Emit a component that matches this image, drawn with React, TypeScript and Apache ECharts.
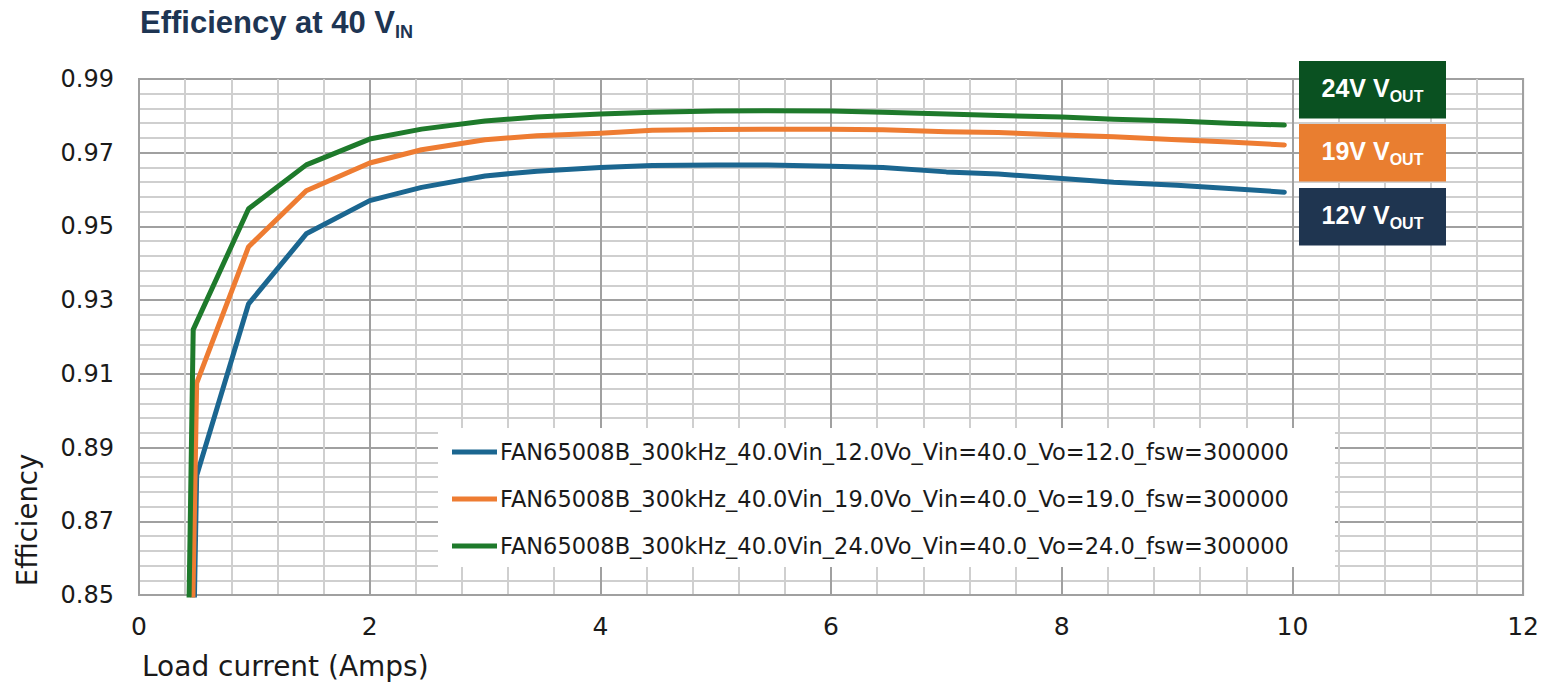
import React, { useEffect, useRef } from "react";
import * as echarts from "echarts";

// ---- Data ----
const titleMain = "Efficiency at 40 V";
const titleSub = "IN";
const xAxisTitle = "Load current (Amps)";
const yAxisTitle = "Efficiency";

const seriesNames = [
  "FAN65008B_300kHz_40.0Vin_12.0Vo_Vin=40.0_Vo=12.0_fsw=300000",
  "FAN65008B_300kHz_40.0Vin_19.0Vo_Vin=40.0_Vo=19.0_fsw=300000",
  "FAN65008B_300kHz_40.0Vin_24.0Vo_Vin=40.0_Vo=24.0_fsw=300000",
];
const seriesColors = ["#1b6690", "#ee7c32", "#1e7a2b"];

const current12 = [0.44, 0.5, 0.95, 1.45, 2.0, 2.45, 3.0, 3.45, 4.0, 4.45, 5.0, 5.45, 6.0, 6.45, 7.0, 7.45, 8.0, 8.45, 9.0, 9.45, 9.93];
const eff12 = [0.78, 0.8824, 0.929, 0.948, 0.957, 0.9606, 0.9637, 0.965, 0.966, 0.9665, 0.9667, 0.9667, 0.9663, 0.966, 0.9648, 0.9642, 0.963, 0.962, 0.9612, 0.9603, 0.9593];

const current19 = [0.44, 0.5, 0.95, 1.45, 2.0, 2.45, 3.0, 3.45, 4.0, 4.45, 5.0, 5.45, 6.0, 6.45, 7.0, 7.45, 8.0, 8.45, 9.0, 9.45, 9.93];
const eff19 = [0.8, 0.9075, 0.9445, 0.9597, 0.9672, 0.9708, 0.9735, 0.9746, 0.9753, 0.9761, 0.9763, 0.9764, 0.9764, 0.9762, 0.9757, 0.9755, 0.9748, 0.9743, 0.9735, 0.9729, 0.9721];

const current24 = [0.41, 0.47, 0.95, 1.45, 2.0, 2.45, 3.0, 3.45, 4.0, 4.45, 5.0, 5.45, 6.0, 6.45, 7.0, 7.45, 8.0, 8.45, 9.0, 9.45, 9.93];
const eff24 = [0.8, 0.922, 0.9548, 0.9667, 0.9737, 0.9764, 0.9786, 0.9797, 0.9805, 0.981, 0.9813, 0.9814, 0.9813, 0.981, 0.9805, 0.9801, 0.9797, 0.9791, 0.9786, 0.978, 0.9775];

const xMin = 0;
const xMax = 12;
const xInterval = 2;
const yMin = 0.85;
const yMax = 0.99;
const yInterval = 0.02;

const voutLabels = ["24V V", "19V V", "12V V"];
const voutSub = "OUT";
const voutBoxColors = ["#0a5121", "#e97e30", "#1f3550"];

const AXIS_FONT = "'DejaVu Sans', Inter, sans-serif";
const BOLD_FONT = "'Liberation Sans', Arial, sans-serif";

export default function App() {
  const ref = useRef<HTMLDivElement>(null);

  useEffect(() => {
    if (!ref.current) return;
    const chart = echarts.init(ref.current, undefined, { renderer: "svg" });

    const currents = [current12, current19, current24];
    const effs = [eff12, eff19, eff24];

    const series = seriesNames.map((name, i) => ({
      name,
      type: "line",
      data: currents[i].map((x, k) => [x, effs[i][k]]),
      showSymbol: false,
      symbol: "none",
      clip: true,
      color: seriesColors[i],
      lineStyle: { width: 5, color: seriesColors[i], cap: "round", join: "round" },
      z: 3,
    }));

    const boxTops = [61, 124, 188];
    const boxGraphics = voutLabels.map((lab, i) => ({
      type: "group",
      children: [
        {
          type: "rect",
          shape: { x: 1299, y: boxTops[i], width: 147, height: 57.5 },
          style: { fill: voutBoxColors[i] },
          z: 10,
        },
        {
          type: "text",
          x: 1372.5,
          y: boxTops[i] + 28.5 - 2,
          z: 11,
          style: {
            text: `{a|${lab}}{b|${voutSub}}`,
            align: "center",
            verticalAlign: "middle",
            fill: "#ffffff",
            rich: {
              a: { fontSize: 25, fontWeight: "bold", fontFamily: BOLD_FONT, fill: "#ffffff", lineHeight: 30, verticalAlign: "middle" },
              b: { fontSize: 16, fontWeight: "bold", fontFamily: BOLD_FONT, fill: "#ffffff", lineHeight: 30, verticalAlign: "middle", padding: [17, 0, 0, 0] },
            },
          },
        },
      ],
    }));

    const option: any = {
      animation: false,
      backgroundColor: "#ffffff",
      title: {
        text: `{a|${titleMain}}{b|${titleSub}}`,
        left: 140,
        top: 5,
        padding: 0,
        textStyle: {
          rich: {
            a: { fontSize: 31, fontWeight: "bold", fontFamily: BOLD_FONT, color: "#1e3553", lineHeight: 34, verticalAlign: "middle" },
            b: { fontSize: 18, fontWeight: "bold", fontFamily: BOLD_FONT, color: "#1e3553", lineHeight: 34, verticalAlign: "middle", padding: [19, 0, 0, 0] },
          },
        },
      },
      grid: {
        left: 139,
        right: 17,
        top: 79,
        bottom: 92,
        show: true,
        borderColor: "#a0a0a0",
        borderWidth: 2,
        backgroundColor: "transparent",
      },
      legend: {
        orient: "vertical",
        left: 438,
        top: 428,
        padding: [12, 0, 9, 14],
        backgroundColor: "#ffffff",
        icon: "rect",
        itemWidth: 45,
        itemHeight: 5,
        itemGap: 23,
        z: 5,
        textStyle: {
          fontFamily: AXIS_FONT,
          fontSize: 22.5,
          color: "#1a1a1a",
          lineHeight: 24,
          width: 835,
          padding: [0, 0, 0, -2],
        },
        data: seriesNames,
      },
      xAxis: {
        type: "value",
        min: xMin,
        max: xMax,
        interval: xInterval,
        axisLine: { show: true, lineStyle: { color: "#a0a0a0", width: 2 } },
        axisTick: { show: false },
        axisLabel: {
          fontFamily: AXIS_FONT,
          fontSize: 25,
          color: "#1a1a1a",
          margin: 19,
        },
        splitLine: { show: true, lineStyle: { color: "#a0a0a0", width: 2 } },
        minorTick: { show: false, splitNumber: 5 },
        minorSplitLine: { show: true, lineStyle: { color: "#cfcfcf", width: 2 } },
      },
      yAxis: {
        type: "value",
        min: yMin,
        max: yMax,
        interval: yInterval,
        axisLine: { show: true, lineStyle: { color: "#a0a0a0", width: 2 } },
        axisTick: { show: false },
        axisLabel: {
          fontFamily: AXIS_FONT,
          fontSize: 24,
          color: "#1a1a1a",
          margin: 25,
          formatter: (v: number) => v.toFixed(2),
        },
        splitLine: { show: true, lineStyle: { color: "#a0a0a0", width: 2 } },
        minorTick: { show: false, splitNumber: 5 },
        minorSplitLine: { show: true, lineStyle: { color: "#cfcfcf", width: 2 } },
      },
      graphic: [
        {
          type: "text",
          x: 142,
          y: 666,
          style: {
            text: xAxisTitle,
            fontFamily: AXIS_FONT,
            fontSize: 28,
            fill: "#1a1a1a",
            align: "left",
            verticalAlign: "middle",
          },
        },
        {
          type: "text",
          x: 27,
          y: 520,
          rotation: Math.PI / 2,
          style: {
            text: yAxisTitle,
            fontFamily: AXIS_FONT,
            fontSize: 27.5,
            fill: "#1a1a1a",
            align: "center",
            verticalAlign: "middle",
          },
        },
        ...boxGraphics,
      ],
      series,
    };

    chart.setOption(option);
    return () => chart.dispose();
  }, []);

  return (
    <div
      ref={ref}
      style={{ position: "fixed", left: 0, top: 0, width: 1542, height: 687, background: "#fff" }}
    />
  );
}
